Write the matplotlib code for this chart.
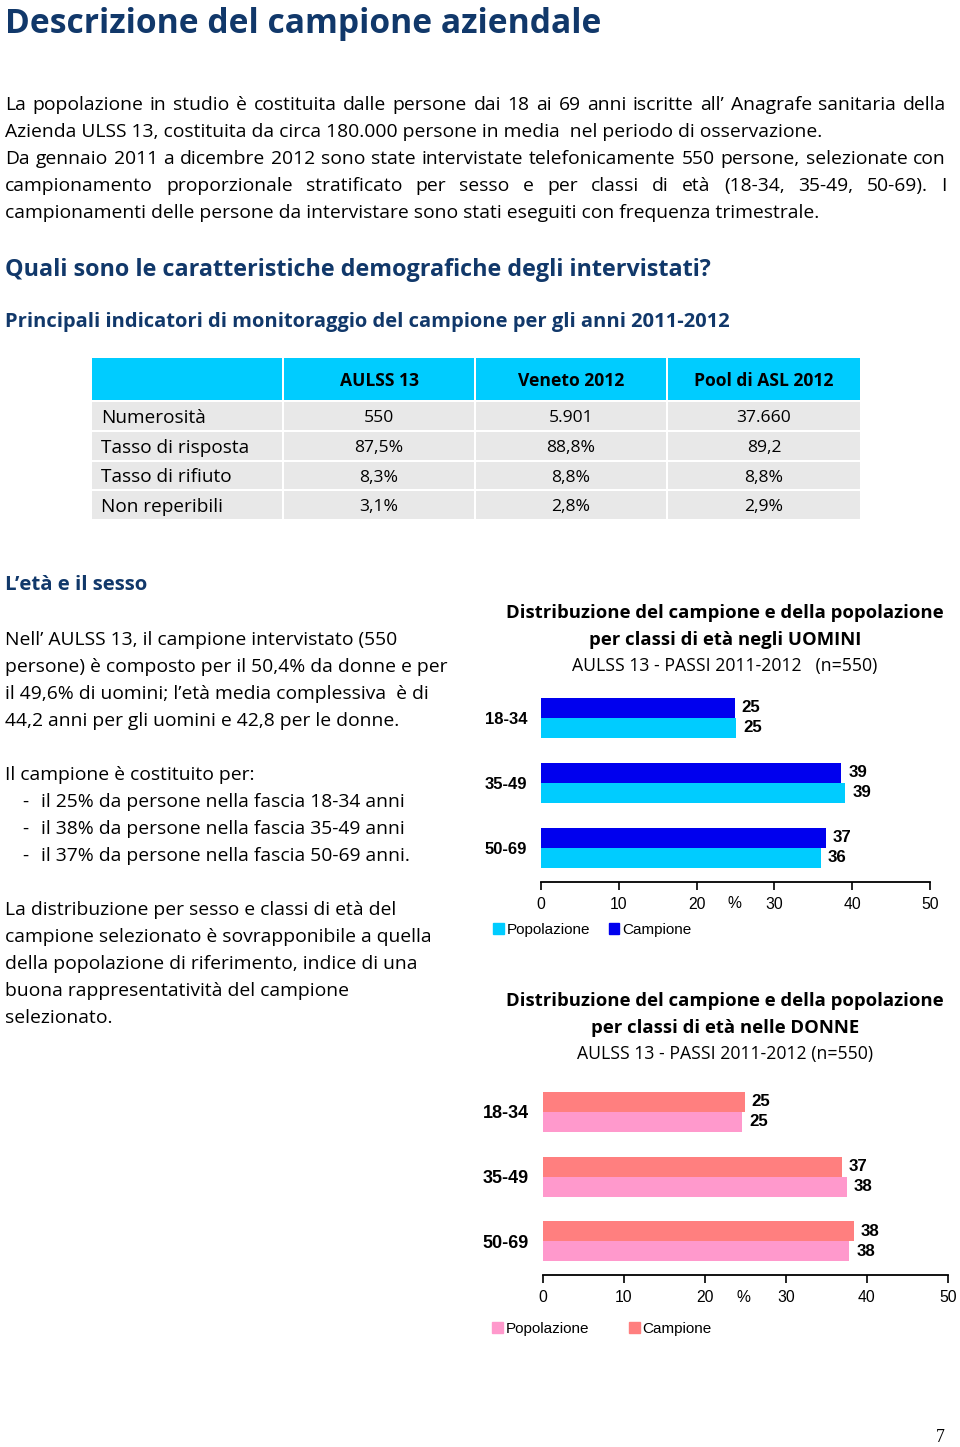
import numpy as np
import matplotlib
matplotlib.use("Agg")
import matplotlib.pyplot as plt
from matplotlib.patches import Rectangle, Patch

# ---- dati ----
classi = ['18-34', '35-49', '50-69']
uomini_campione = [24.9, 38.6, 36.6]
uomini_popolazione = [25.1, 39.1, 36.0]
uomini_lab_camp = ['25', '39', '37']
uomini_lab_pop = ['25', '39', '36']
donne_campione = [24.9, 36.9, 38.4]
donne_popolazione = [24.6, 37.5, 37.8]
donne_lab_camp = ['25', '37', '38']
donne_lab_pop = ['25', '38', '38']

tab_cols = ['AULSS 13', 'Veneto 2012', 'Pool di ASL 2012']
tab_rows = ['Numerosità', 'Tasso di risposta', 'Tasso di rifiuto', 'Non reperibili']
tab_aulss = ['550', '87,5%', '8,3%', '3,1%']
tab_veneto = ['5.901', '88,8%', '8,8%', '2,8%']
tab_pool = ['37.660', '89,2', '8,8%', '2,9%']

W, H = 960, 1447
BODY = 'Open Sans'
NAVY = '#11386A'
FS = 13.9
DY = 2  # piccolo spostamento verticale del testo
fig = plt.figure(figsize=(W / 100, H / 100), dpi=100)
page = fig.add_axes([0, 0, 1, 1])
page.set_xlim(0, W)
page.set_ylim(H, 0)
page.axis('off')
rend = fig.canvas.get_renderer()


def riga(x, y, s, width=None, **kw):
    kw.setdefault('family', BODY)
    kw.setdefault('fontsize', FS)
    kw.setdefault('va', 'center')
    y = y + DY
    if width is None:
        page.text(x, y, s, **kw)
        return
    words = s.split(' ')
    ts = [page.text(0, y, w, **kw) for w in words]
    ws = [t.get_window_extent(rend).width for t in ts]
    gap = (width - sum(ws)) / (len(words) - 1)
    for t, w in zip(ts, ws):
        t.set_x(x)
        x += w + gap


# titolo e testi
riga(5, 22, 'Descrizione del campione aziendale', fontsize=24.2, weight='bold', color=NAVY)

p1 = [('La popolazione in studio è costituita dalle persone dai 18 ai 69 anni iscritte all’ Anagrafe sanitaria della', 941),
      ('Azienda ULSS 13, costituita da circa 180.000 persone in media  nel periodo di osservazione.', None),
      ('Da gennaio 2011 a dicembre 2012 sono state intervistate telefonicamente 550 persone, selezionate con', 941),
      ('campionamento proporzionale stratificato per sesso e per classi di età (18-34, 35-49, 50-69). I', 941),
      ('campionamenti delle persone da intervistare sono stati eseguiti con frequenza trimestrale.', None)]
for i, (s, w) in enumerate(p1):
    riga(5, 103 + 27 * i, s, width=w)

riga(5, 268, 'Quali sono le caratteristiche demografiche degli intervistati?', fontsize=16.8, weight='bold', color=NAVY)
riga(5, 320, 'Principali indicatori di monitoraggio del campione per gli anni 2011-2012', fontsize=14.5, weight='bold', color=NAVY)

# tabella
xe = [91, 283, 475, 667, 861]
ye = [357, 401, 431, 461, 490, 520]
for r in range(5):
    for c in range(4):
        page.add_patch(Rectangle((xe[c] + 1, ye[r] + 1), xe[c + 1] - xe[c] - 2, ye[r + 1] - ye[r] - 2,
                                 facecolor='#00CCFF' if r == 0 else '#E8E8E8', edgecolor='none'))
for c, s in enumerate(tab_cols):
    riga((xe[c + 1] + xe[c + 2]) / 2, (ye[0] + ye[1]) / 2, s, ha='center', weight='bold', fontsize=12.6)
for r, s in enumerate(tab_rows):
    yc = (ye[r + 1] + ye[r + 2]) / 2
    riga(101, yc, s, fontsize=13.7)
    for c, col in enumerate([tab_aulss, tab_veneto, tab_pool]):
        riga((xe[c + 1] + xe[c + 2]) / 2, yc, col[r], ha='center', fontsize=12.6)

riga(5, 583, 'L’età e il sesso', fontsize=14.7, weight='bold', color=NAVY)
p2 = ['Nell’ AULSS 13, il campione intervistato (550',
      'persone) è composto per il 50,4% da donne e per',
      'il 49,6% di uomini; l’età media complessiva  è di',
      '44,2 anni per gli uomini e 42,8 per le donne.']
for i, s in enumerate(p2):
    riga(5, 638 + 27 * i, s)
riga(5, 773, 'Il campione è costituito per:')
p3 = ['il 25% da persone nella fascia 18-34 anni',
      'il 38% da persone nella fascia 35-49 anni',
      'il 37% da persone nella fascia 50-69 anni.']
for i, s in enumerate(p3):
    riga(22, 800 + 27 * i, '-')
    riga(41, 800 + 27 * i, s)
p4 = ['La distribuzione per sesso e classi di età del',
      'campione selezionato è sovrapponibile a quella',
      'della popolazione di riferimento, indice di una',
      'buona rappresentatività del campione',
      'selezionato.']
for i, s in enumerate(p4):
    riga(5, 908 + 27 * i, s)

# titoli dei grafici
riga(725, 611, 'Distribuzione del campione e della popolazione', ha='center', weight='bold', fontsize=13.3)
riga(725, 638, 'per classi di età negli UOMINI', ha='center', weight='bold', fontsize=13.3)
riga(725, 664, 'AULSS 13 - PASSI 2011-2012   (n=550)', ha='center', fontsize=12.7)
riga(725, 999, 'Distribuzione del campione e della popolazione', ha='center', weight='bold', fontsize=13.3)
riga(725, 1026, 'per classi di età nelle DONNE', ha='center', weight='bold', fontsize=13.3)
riga(725, 1052, 'AULSS 13 - PASSI 2011-2012 (n=550)', ha='center', fontsize=12.7)

page.text(940, 1438, '7', family='Liberation Serif', fontsize=13, ha='center', va='center')


def grafico(left, right, top, bottom, yc0, step, camp, pop, lab_c, lab_p, col_c, col_p,
            catsize, legx, legy, colsp, pct_off):
    ax = fig.add_axes([left / W, 1 - bottom / H, (right - left) / W, (bottom - top) / H])
    y = np.arange(len(classi))
    h = 20 / step
    ax.barh(y - h / 2, camp, height=h, color=col_c)
    ax.barh(y + h / 2, pop, height=h, color=col_p)
    for yy, v, s in zip(y - h / 2, camp, lab_c):
        ax.annotate(s, (v, yy), xytext=(5, 0), textcoords='offset points', va='center',
                    family='Liberation Sans', weight='bold', fontsize=12.2)
    for yy, v, s in zip(y + h / 2, pop, lab_p):
        ax.annotate(s, (v, yy), xytext=(5, 0), textcoords='offset points', va='center',
                    family='Liberation Sans', weight='bold', fontsize=12.2)
    ax.set_xlim(0, 50)
    ax.set_ylim((bottom - yc0) / step, (top - yc0) / step)
    for sp in ['top', 'right', 'left']:
        ax.spines[sp].set_visible(False)
    ax.spines['bottom'].set_linewidth(1.3)
    ax.set_facecolor('none')
    ax.set_xticks(range(0, 51, 10))
    ax.tick_params(axis='x', direction='out', length=6, width=1.2, pad=4.5, labelsize=11.3)
    ax.set_yticks(y)
    ax.set_yticklabels(classi, weight='bold', fontsize=catsize, family='Liberation Sans')
    ax.tick_params(axis='y', length=0, pad=10)
    for t in ax.get_xticklabels():
        t.set_family('Liberation Sans')
    ax.annotate('%', xy=(24.8, 0), xycoords=('data', 'axes fraction'), xytext=(0, -pct_off),
                textcoords='offset points', ha='center', va='center', fontsize=11.3,
                family='Liberation Sans')
    handles = [Patch(color=col_p, label='Popolazione'), Patch(color=col_c, label='Campione')]
    ax.legend(handles=handles, loc='center left', bbox_to_anchor=(legx / W, 1 - legy / H),
              bbox_transform=fig.transFigure, ncol=2, frameon=False, handlelength=0.7,
              handleheight=0.7, handletextpad=0.2, columnspacing=colsp, borderpad=0,
              borderaxespad=0, prop={'family': 'Liberation Sans', 'size': 11})
    return ax


ax_u = grafico(541, 930, 693, 882, 718, 65, uomini_campione, uomini_popolazione,
               uomini_lab_camp, uomini_lab_pop, '#0000EE', '#00CCFF', 12, 493, 930, 1.2, 15.5)
ax_d = grafico(543, 948, 1087, 1275, 1112, 64.5, donne_campione, donne_popolazione,
               donne_lab_camp, donne_lab_pop, '#FF7F7F', '#FF99CC', 13, 492, 1329, 2.6, 16)

fig.savefig('out.png', dpi=100)
